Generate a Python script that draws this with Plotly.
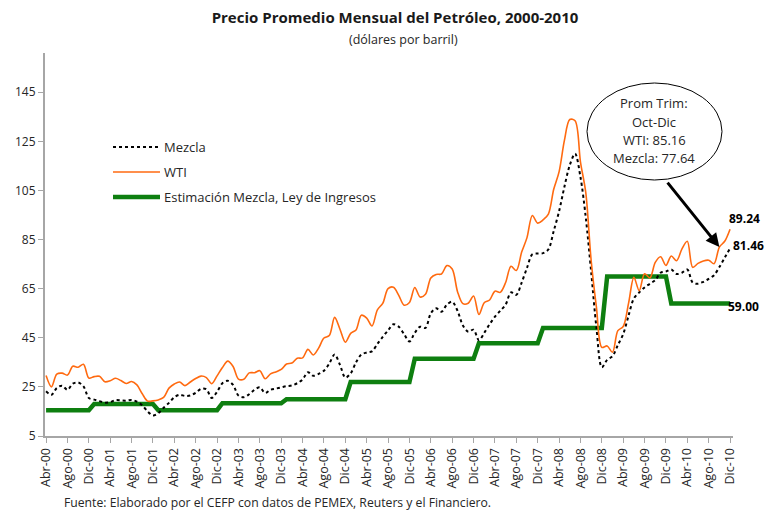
import plotly.graph_objects as go

# ---------------- data ----------------
meses_abrev = ["Ene", "Feb", "Mar", "Abr", "May", "Jun", "Jul", "Ago", "Sep", "Oct", "Nov", "Dic"]
anios = list(range(2000, 2011))
# monthly categories Abr-00 ... Dic-10
meses = [f"{m}-{a % 100:02d}" for a in anios for i, m in enumerate(meses_abrev) if not (a == 2000 and i < 3)]

wti_2000 = [29.6, 25.0, 30.2, 30.6, 29.8, 33.4, 33.0, 34.2, 28.6]
wti_2001 = [29.2, 29.3, 27.1, 27.5, 28.5, 27.6, 26.4, 27.2, 25.8, 22.2, 19.2, 19.3]
wti_2002 = [19.7, 20.7, 24.5, 26.2, 27.0, 25.5, 27.0, 28.4, 29.4, 28.8, 26.3, 29.5]
wti_2003 = [32.9, 35.5, 33.3, 28.2, 28.1, 30.7, 30.8, 31.6, 28.3, 30.3, 31.1, 32.1]
wti_2004 = [34.3, 34.7, 36.7, 36.8, 40.3, 38.0, 40.8, 44.9, 45.9, 53.3, 48.5, 43.2]
wti_2005 = [46.8, 48.2, 54.2, 53.0, 49.8, 56.4, 59.0, 65.0, 65.6, 62.3, 58.3, 59.4]
wti_2006 = [65.5, 61.6, 62.7, 69.4, 70.8, 71.0, 74.4, 73.0, 63.8, 58.9, 59.1, 62.0]
wti_2007 = [54.5, 59.3, 60.4, 64.0, 63.5, 67.5, 74.1, 72.4, 79.9, 85.8, 94.8, 91.7]
wti_2008 = [93.0, 95.4, 105.5, 112.6, 125.4, 133.9, 133.4, 116.7, 104.1, 76.6, 57.3, 41.1]
wti_2009 = [41.7, 39.1, 47.9, 49.6, 59.0, 69.6, 64.2, 71.1, 69.4, 75.7, 78.0, 74.5]
wti_2010 = [78.3, 76.4, 81.2, 84.3, 73.7, 75.3, 76.3, 76.6, 75.2, 81.94, 84.30, 89.24]

mezcla_2000 = [23.2, 21.8, 24.5, 25.5, 23.8, 26.3, 26.8, 25.2, 20.5]
mezcla_2001 = [19.8, 19.2, 18.6, 18.8, 19.6, 19.5, 19.4, 19.7, 19.0, 17.5, 15.0, 13.4]
mezcla_2002 = [14.3, 16.5, 18.5, 20.8, 21.8, 21.3, 21.5, 22.6, 24.2, 24.0, 20.5, 23.0]
mezcla_2003 = [26.5, 27.5, 25.8, 21.5, 20.8, 22.0, 23.8, 24.8, 22.5, 23.8, 24.3, 24.8]
mezcla_2004 = [25.3, 25.6, 26.5, 28.0, 31.0, 29.5, 30.3, 31.6, 34.5, 38.2, 34.0, 28.8]
mezcla_2005 = [30.5, 35.0, 38.2, 39.0, 39.5, 42.5, 45.4, 48.0, 50.5, 49.5, 46.5, 43.5]
mezcla_2006 = [47.0, 49.5, 49.0, 55.0, 57.0, 55.6, 58.5, 59.7, 56.0, 50.0, 47.5, 48.3]
mezcla_2007 = [44.0, 47.0, 50.5, 53.6, 56.0, 58.5, 63.5, 62.5, 67.5, 73.5, 79.0, 79.3]
mezcla_2008 = [79.5, 81.0, 88.5, 96.5, 106.5, 115.3, 120.0, 110.5, 94.0, 72.0, 49.0, 33.0]
mezcla_2009 = [36.0, 37.5, 42.0, 46.5, 54.0, 61.0, 63.5, 65.5, 67.0, 68.5, 71.5, 72.0]
mezcla_2010 = [72.8, 71.0, 71.5, 72.8, 67.5, 67.0, 67.8, 69.0, 70.5, 73.8, 77.66, 81.46]

# Estimación Mezcla, Ley de Ingresos (annual)
ley_anual = [15.5, 18.0, 15.5, 18.35, 20.0, 27.0, 36.5, 42.8, 49.0, 70.0, 59.0]
meses_por_anio = [9, 12, 12, 12, 12, 12, 12, 12, 12, 12, 12]

y_ticks = [5, 25, 45, 65, 85, 105, 125, 145]

prom_trim_wti = "85.16"
prom_trim_mezcla = "77.64"

wti = (wti_2000 + wti_2001 + wti_2002 + wti_2003 + wti_2004 + wti_2005 +
       wti_2006 + wti_2007 + wti_2008 + wti_2009 + wti_2010)
mezcla = (mezcla_2000 + mezcla_2001 + mezcla_2002 + mezcla_2003 + mezcla_2004 + mezcla_2005 +
          mezcla_2006 + mezcla_2007 + mezcla_2008 + mezcla_2009 + mezcla_2010)
ley = [v for v, n in zip(ley_anual, meses_por_anio) for _ in range(n)]
x_ticks = meses[::4]

# ---------------- styles ----------------
FONT = "Open Sans"
C_WTI = "#FF6A10"
C_MEZ = "#000000"
C_LEY = "#0E7F10"
C_AX = "#A6A6A6"
C_TXT = "#262626"

fig = go.Figure()
fig.add_trace(go.Scatter(x=meses, y=ley, mode="lines", name="Estimación Mezcla, Ley de Ingresos",
                         line=dict(color=C_LEY, width=4.5)))
fig.add_trace(go.Scatter(x=meses, y=mezcla, mode="lines", name="Mezcla",
                         line=dict(color=C_MEZ, width=2, dash="3px,3px", shape="spline", smoothing=0.9)))
fig.add_trace(go.Scatter(x=meses, y=wti, mode="lines", name="WTI",
                         line=dict(color=C_WTI, width=1.6, shape="spline", smoothing=0.9)))

# plot area in pixels: x 45..733, y 53..436
L, R, T, B = 45, 733, 53, 436
W, H = 765, 510


def px(xp):
    return (xp - L) / (R - L)


def py(yp):
    return (B - yp) / (B - T)


fig.update_layout(
    width=W, height=H,
    margin=dict(l=L, r=W - R, t=T, b=H - B),
    plot_bgcolor="white", paper_bgcolor="white",
    showlegend=False,
    font=dict(family=FONT, color=C_TXT, size=12),
    title=dict(text="<b>Precio Promedio Mensual del Petróleo, 2000-2010</b>",
               x=395 / W, xanchor="center", y=1 - 18 / H, yanchor="middle",
               font=dict(family=FONT, size=15, color="#1a1a1a")),
)

fig.update_xaxes(type="category", range=[-0.2, 128.55],
                 tickmode="array", tickvals=x_ticks, ticktext=x_ticks, tickangle=-90,
                 ticks="outside", ticklen=5, tickcolor=C_AX, tickwidth=1,
                 showline=True, linecolor=C_AX, linewidth=2, showgrid=False, zeroline=False,
                 tickfont=dict(family=FONT, size=12.5, color=C_TXT))
fig.update_yaxes(range=[5, 161], tickmode="array", tickvals=y_ticks,
                 ticks="outside", ticklen=5, tickcolor=C_AX, tickwidth=1,
                 showline=True, linecolor=C_AX, linewidth=2, showgrid=False, zeroline=False,
                 tickfont=dict(family=FONT, size=12, color=C_TXT))

ann = []
shapes = []

# subtitle
ann.append(dict(text="(dólares por barril)", x=px(403), y=py(40), xref="paper", yref="paper",
                showarrow=False, xanchor="center", yanchor="middle", font=dict(size=12.5)))
# footer
ann.append(dict(text="Fuente: Elaborado por el CEFP con datos de PEMEX, Reuters y el Financiero.",
                x=px(62), y=py(502), xref="paper", yref="paper", showarrow=False,
                xanchor="left", yanchor="middle", font=dict(size=12.2)))

# manual legend
leg = [("Mezcla", dict(color=C_MEZ, width=2, dash="3px,3px"), 147),
       ("WTI", dict(color=C_WTI, width=1.6), 172),
       ("Estimación Mezcla, Ley de Ingresos", dict(color=C_LEY, width=4.5), 197)]
for name, ln, yy in leg:
    shapes.append(dict(type="line", xref="paper", yref="paper", x0=px(113), x1=px(160),
                       y0=py(yy), y1=py(yy), line=ln))
    ann.append(dict(text=name, x=px(162), y=py(yy), xref="paper", yref="paper", showarrow=False,
                    xanchor="left", yanchor="middle", font=dict(size=13)))

# callout ellipse
shapes.append(dict(type="circle", xref="paper", yref="paper", x0=px(587), x1=px(722),
                   y0=py(180), y1=py(83), line=dict(color="black", width=1), fillcolor="white"))
for txt, yy in [("Prom Trim:", 103.3), ("Oct-Dic", 121.7), (f"WTI: {prom_trim_wti}", 140),
                (f"Mezcla: {prom_trim_mezcla}", 158.3)]:
    ann.append(dict(text=txt, x=px(654), y=py(yy), xref="paper", yref="paper", showarrow=False,
                    xanchor="center", yanchor="middle", font=dict(size=13)))

# arrow to Oct-10 WTI
i_oct = meses.index("Oct-10")
ann.append(dict(text="", x=meses[i_oct], y=wti[i_oct], xref="x", yref="y", showarrow=True,
                arrowhead=2, arrowsize=0.9, arrowwidth=3, arrowcolor="black",
                ax=-53, ay=-66, standoff=0))

# end labels
ann.append(dict(text=f"<b>{wti[-1]:.2f}</b>", x=meses[-1], y=wti[-1], xref="x", yref="y",
                showarrow=False, xanchor="left", yanchor="middle", xshift=-3, yshift=11,
                font=dict(size=12, color="black")))
ann.append(dict(text=f"<b>{mezcla[-1]:.2f}</b>", x=meses[-1], y=mezcla[-1], xref="x", yref="y",
                showarrow=False, xanchor="left", yanchor="middle", xshift=1, yshift=3,
                font=dict(size=12, color="black")))
ann.append(dict(text=f"<b>{ley[-1]:.2f}</b>", x=meses[-1], y=ley[-1], xref="x", yref="y",
                showarrow=False, xanchor="left", yanchor="middle", xshift=-4, yshift=-3,
                font=dict(size=12, color="black")))

fig.update_layout(annotations=ann, shapes=shapes)
fig.write_html("out.html", config={"displayModeBar": False})

# remove the browser's default page margin so the figure sits at the window's corner
with open("out.html", encoding="utf-8") as f:
    html = f.read()
html = html.replace("<head>", "<head><style>html,body{margin:0;padding:0;overflow:hidden;}</style>", 1)
with open("out.html", "w", encoding="utf-8") as f:
    f.write(html)
